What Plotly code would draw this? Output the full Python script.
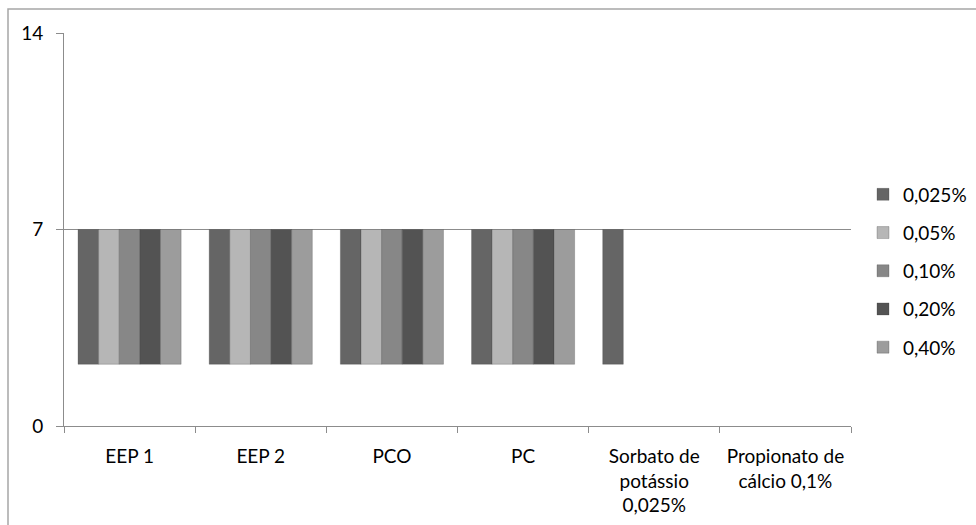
import plotly.graph_objects as go

# ---- data ----
categories = ["EEP 1", "EEP 2", "PCO", "PC",
              "Sorbato de<br>potássio<br>0,025%", "Propionato de<br>cálcio 0,1%"]
series_names = ["0,025%", "0,05%", "0,10%", "0,20%", "0,40%"]
s_0025 = [7, 7, 7, 7, 7, None]
s_005 = [7, 7, 7, 7, None, None]
s_010 = [7, 7, 7, 7, None, None]
s_020 = [7, 7, 7, 7, None, None]
s_040 = [7, 7, 7, 7, None, None]
bar_base = 2.2
y_ticks = [0, 7, 14]

series_values = [s_0025, s_005, s_010, s_020, s_040]
colors = ["#656565", "#b6b6b6", "#878787", "#535353", "#9c9c9c"]

FONT = "Lato"
FS = 19
GRAY = "#8c8c8c"

W, H = 976, 525
L, R, T, B = 64, 0, 33, 99
PW = W - L - R          # paper width in px
PH = H - T - B          # paper height in px
plot_right = 851        # right edge of the axes area in px

fig = go.Figure()
for name, vals, col in zip(series_names, series_values, colors):
    fig.add_trace(go.Bar(
        x=categories,
        y=[None if v is None else v - bar_base for v in vals],
        base=bar_base,
        name=name,
        legendgroup=name,
        marker=dict(color=col, line=dict(width=0.6, color="rgba(60,60,60,0.45)")),
    ))

fig.update_layout(
    width=W, height=H,
    margin=dict(l=L, r=R, t=T, b=B),
    paper_bgcolor="white", plot_bgcolor="white",
    barmode="group", bargap=0.214, bargroupgap=0,
    font=dict(family=FONT, size=FS, color="#000000"),
    showlegend=True,
    legend=dict(x=(863 - L) / PW, xanchor="left", y=(H - B - 271) / PH, yanchor="middle",
                font=dict(family=FONT, size=FS, color="#000000"),
                tracegroupgap=10.5, itemwidth=30, bgcolor="rgba(0,0,0,0)"),
    xaxis=dict(domain=[0, (plot_right - L) / PW],
               categoryorder="array", categoryarray=categories,
               showline=True, linecolor=GRAY, linewidth=1,
               ticks="outside", tickson="boundaries", ticklen=6, tickcolor=GRAY,
               showgrid=False, zeroline=False, ticklabelstandoff=13,
               tickfont=dict(family=FONT, size=FS, color="#000000")),
    yaxis=dict(range=[0, 14], tickvals=y_ticks, ticktext=[str(t) for t in y_ticks],
               showline=True, linecolor=GRAY, linewidth=1,
               ticks="outside", ticklen=7, tickcolor=GRAY,
               showgrid=True, gridcolor=GRAY, gridwidth=1, zeroline=False,
               ticklabelstandoff=9,
               tickfont=dict(family=FONT, size=FS, color="#000000")),
)

# chart-area border (Excel style), partly off-page
fig.add_shape(type="rect", xref="paper", yref="paper",
              x0=(8 - L) / PW, x1=(990 - L) / PW,
              y0=(H - B - 540) / PH, y1=(H - B - 9) / PH,
              line=dict(color="#a6a6a6", width=1.5), layer="below")

fig.write_html("out.html")
